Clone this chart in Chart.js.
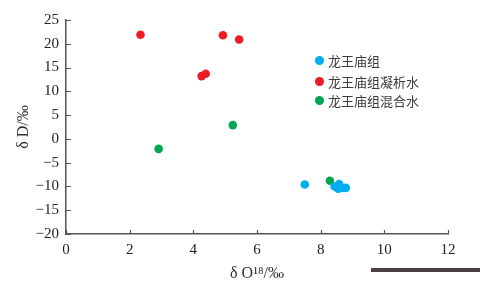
<!DOCTYPE html>
<html><head><meta charset="utf-8">
<script src="https://cdn.jsdelivr.net/npm/chart.js@4/dist/chart.umd.min.js"></script>
<style>
html,body{margin:0;padding:0;background:#fff;}
#wrap{position:relative;width:480px;height:287px;}
#legend{position:absolute;left:315px;top:51px;font-family:"Noto Sans CJK SC",sans-serif;font-size:13px;color:#3a3a3a;line-height:19px;}
#legend div{display:flex;align-items:center;height:19px;}
#legend div:first-child{margin-bottom:2px;}
#legend span.dot{display:inline-block;width:9px;height:9px;border-radius:50%;margin-right:4px;}
#bar{position:absolute;left:371px;top:268px;width:109px;height:4px;background:#4a4240;}
</style></head>
<body><div id="wrap"><canvas id="c" width="480" height="287"></canvas><div id="legend"></div><div id="bar"></div></div>
<script>
const seriesNames = ["龙王庙组", "龙王庙组凝析水", "龙王庙组混合水"];
const seriesColors = ["#00aeef", "#ed1c24", "#00a651"];
const blueX = [7.5, 8.44, 8.58, 8.65, 8.79, 8.55];
const blueY = [-9.6, -10.0, -9.5, -10.3, -10.3, -10.5];
const redX = [2.34, 4.93, 5.44, 4.26, 4.39];
const redY = [21.9, 21.8, 20.9, 13.2, 13.7];
const greenX = [5.24, 2.91, 8.29];
const greenY = [2.9, -2.1, -8.8];
const xTicks = [0, 2, 4, 6, 8, 10, 12];
const yTicks = [-20, -15, -10, -5, 0, 5, 10, 15, 20, 25];

function pts(xs, ys){ return xs.map((x,i)=>({x:x, y:ys[i]})); }
const allX=[blueX, redX, greenX], allY=[blueY, redY, greenY];

const innerTicks = {
  id:'innerTicks',
  afterDraw(chart){
    const ctx=chart.ctx; ctx.save(); ctx.strokeStyle='#555'; ctx.lineWidth=1.2;
    const xs=chart.scales.x, ys=chart.scales.y;
    ctx.beginPath();
    xs.ticks.forEach((t,i)=>{ const px=Math.round(xs.getPixelForTick(i))+0.5; ctx.moveTo(px, ys.bottom); ctx.lineTo(px, ys.bottom-4); });
    ys.ticks.forEach((t,i)=>{ const py=Math.round(ys.getPixelForTick(i))+0.5; ctx.moveTo(xs.left, py); ctx.lineTo(xs.left+5, py); });
    ctx.stroke(); ctx.restore();
  }
};

const tickFont={family:'"Liberation Serif", serif', size:15};
new Chart(document.getElementById('c'), {
  type:'scatter',
  data:{datasets: seriesNames.map((n,i)=>({label:n, data:pts(allX[i], allY[i]), backgroundColor:seriesColors[i], borderColor:seriesColors[i], pointRadius:4.3, pointHoverRadius:4.3, borderWidth:0}))},
  options:{
    responsive:false, animation:false, devicePixelRatio:1,
    layout:{padding:{top:20, right:32, bottom:0, left:0}},
    plugins:{legend:{display:false}, tooltip:{enabled:false}},
    scales:{
      x:{type:'linear', min:0, max:12, afterBuildTicks(s){s.ticks=xTicks.map(v=>({value:v}));},
        grid:{display:false, drawTicks:false}, border:{display:true, color:'#555', width:1.5},
        ticks:{font:tickFont, color:'#222', padding:7, maxRotation:0},
        title:{display:true, text:'δ O¹⁸/‰', font:{family:'"Liberation Serif", serif', size:16}, color:'#333', padding:{top:0,bottom:4}},
        afterFit(s){s.height=53;}
      },
      y:{type:'linear', min:-20, max:25, afterBuildTicks(s){s.ticks=yTicks.map(v=>({value:v}));},
        grid:{display:false, drawTicks:false}, border:{display:true, color:'#555', width:1.5},
        ticks:{font:tickFont, color:'#222', padding:7, callback:v=>String(v).replace('-', '−')},
        title:{display:true, text:'δ D/‰', font:{family:'"Liberation Serif", serif', size:16}, color:'#333', padding:{top:14,bottom:0}},
        afterFit(s){s.width=66;}
      }
    }
  },
  plugins:[innerTicks]
});
const lg=document.getElementById('legend');
seriesNames.forEach((n,i)=>{ const d=document.createElement('div'); d.innerHTML='<span class="dot" style="background:'+seriesColors[i]+'"></span>'+n; lg.appendChild(d); });
</script></body></html>
